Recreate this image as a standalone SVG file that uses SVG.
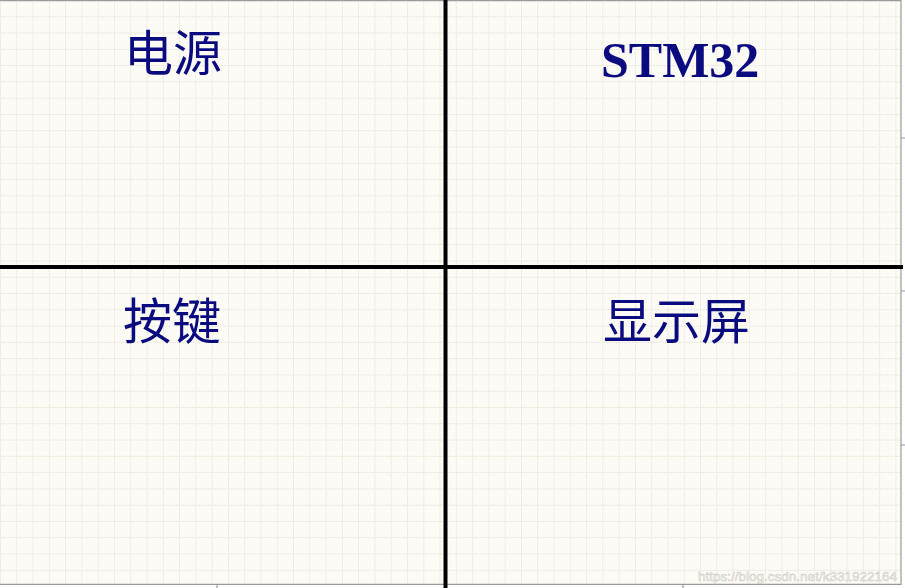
<svg xmlns="http://www.w3.org/2000/svg" width="905" height="588" viewBox="0 0 905 588">
  <defs>
    <pattern id="grid" patternUnits="userSpaceOnUse" x="0" y="0" width="16.28" height="16.28">
      <rect width="16.28" height="16.28" fill="#fdfbf6"/>
      <path d="M0 0 V16.28 M0 0 H16.28" fill="none" stroke="#ebe7de" stroke-width="1.3"/>
    </pattern>
    <style>
      .cjk { font-family: "Noto Sans CJK SC", sans-serif; font-size: 49px; fill: #0b0b80; }
      .latin { font-family: "Liberation Serif", serif; font-size: 50px; font-weight: bold; fill: #0b0b80; }
      .border { stroke: #9a9a9a; stroke-width: 1.2; fill: none; }
      .divider { stroke: #000; stroke-width: 4; }
      .wm { font-family: "Liberation Sans", sans-serif; font-size: 13.5px; fill: #f4f2ee; stroke: #cfcbc3; stroke-width: 0.5; }
    </style>
  </defs>

  <rect width="905" height="588" fill="#ffffff"/>
  <rect x="0" y="0" width="901" height="584" fill="url(#grid)"/>

  <g id="frame">
    <path class="border" d="M0 0.6 H901 V584.4 H0"/>
    <path class="border" d="M901 138 H905 M901 291 H905 M901 445 H905"/>
    <path class="border" d="M217 584 V588 M683 584 V588"/>
  </g>

  <g id="connectors">
    <line class="divider" x1="445.5" y1="0" x2="445.5" y2="588"/>
    <line class="divider" x1="0" y1="267" x2="903" y2="267"/>
  </g>

  <g id="node-power">
    <text class="cjk" x="124" y="71">电源</text>
  </g>
  <g id="node-stm32">
    <text class="latin" x="601" y="77">STM32</text>
  </g>
  <g id="node-keys">
    <text class="cjk" x="123" y="339">按键</text>
  </g>
  <g id="node-display">
    <text class="cjk" x="603" y="339">显示屏</text>
  </g>

  <text class="wm" x="698" y="581" textLength="199" lengthAdjust="spacingAndGlyphs">https://blog.csdn.net/k331922164</text>
</svg>
